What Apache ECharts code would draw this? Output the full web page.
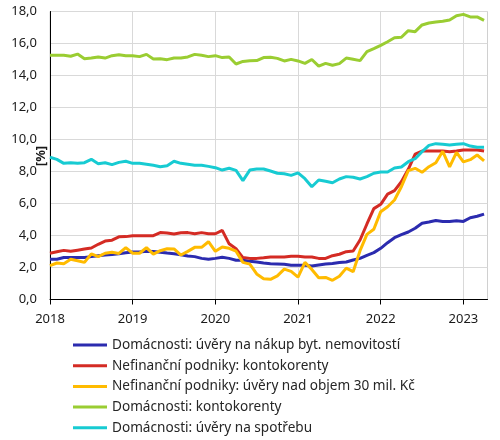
<!DOCTYPE html>
<html>
<head>
<meta charset="utf-8">
<script src="https://cdn.jsdelivr.net/npm/echarts@6/dist/echarts.min.js"></script>
<style>html,body{margin:0;padding:0;background:#fff;}#c{width:500px;height:440px;}</style>
</head>
<body>
<div id="c"></div>
<script>
// Monthly data Jan 2018 – Apr 2023 (64 months)
var yearLabels = ['2018', '2019', '2020', '2021', '2022', '2023'];
var seriesNames = [
  'Domácnosti: úvěry na nákup byt. nemovitostí',
  'Nefinanční podniky: kontokorenty',
  'Nefinanční podniky: úvěry nad objem 30 mil. Kč',
  'Domácnosti: kontokorenty',
  'Domácnosti: úvěry na spotřebu'
];
var hhMortgage = [2.52,2.52,2.62,2.63,2.63,2.63,2.68,2.73,2.78,2.81,2.86,2.92,2.97,2.97,3.02,3.00,2.96,2.90,2.86,2.80,2.72,2.68,2.57,2.51,2.57,2.64,2.57,2.45,2.45,2.39,2.34,2.28,2.24,2.22,2.20,2.14,2.14,2.14,2.09,2.16,2.22,2.25,2.31,2.34,2.47,2.57,2.76,2.93,3.20,3.55,3.86,4.05,4.22,4.45,4.76,4.84,4.94,4.88,4.88,4.92,4.88,5.11,5.20,5.34];
var nfcOverdraft = [2.89,2.98,3.07,3.01,3.08,3.15,3.22,3.45,3.65,3.71,3.92,3.93,3.99,3.99,3.99,3.99,4.18,4.16,4.09,4.17,4.18,4.11,4.18,4.11,4.11,4.32,3.48,3.17,2.62,2.57,2.57,2.61,2.66,2.66,2.66,2.70,2.70,2.66,2.66,2.57,2.57,2.74,2.83,2.99,3.03,3.72,4.72,5.68,5.95,6.59,6.80,7.36,8.14,9.09,9.28,9.28,9.28,9.28,9.24,9.28,9.34,9.34,9.34,9.28];
var nfcLarge = [2.12,2.28,2.24,2.51,2.42,2.32,2.85,2.68,2.89,2.95,2.88,3.24,2.89,2.89,3.24,2.84,3.05,3.17,3.16,2.78,3.01,3.26,3.26,3.61,3.01,3.28,3.20,3.02,2.32,2.21,1.60,1.30,1.26,1.48,1.90,1.76,1.40,2.32,1.88,1.36,1.38,1.20,1.45,1.96,1.74,3.05,4.07,4.39,5.49,5.80,6.22,7.05,8.05,8.20,7.95,8.30,8.55,9.26,8.29,9.20,8.60,8.74,9.03,8.67];
var hhOverdraft = [15.26,15.26,15.26,15.20,15.34,15.05,15.09,15.16,15.09,15.24,15.30,15.24,15.24,15.18,15.32,15.03,15.05,14.99,15.09,15.09,15.16,15.32,15.26,15.18,15.24,15.12,15.16,14.72,14.88,14.92,14.93,15.12,15.14,15.07,14.91,15.01,14.91,14.76,15.00,14.59,14.76,14.64,14.74,15.09,15.01,14.93,15.49,15.68,15.88,16.11,16.36,16.39,16.80,16.74,17.16,17.28,17.34,17.39,17.47,17.74,17.82,17.66,17.66,17.45];
var hhConsumer = [8.89,8.76,8.51,8.55,8.51,8.55,8.76,8.49,8.55,8.43,8.57,8.64,8.51,8.51,8.45,8.39,8.30,8.36,8.64,8.51,8.45,8.39,8.39,8.32,8.24,8.09,8.20,8.07,7.43,8.09,8.16,8.16,8.03,7.89,7.86,7.76,7.91,7.55,7.05,7.47,7.39,7.30,7.53,7.68,7.64,7.53,7.68,7.89,7.97,7.97,8.22,8.28,8.61,8.80,9.24,9.63,9.74,9.70,9.66,9.70,9.74,9.59,9.51,9.51];

var colors = ['#2b2baf', '#d42b24', '#ffbb00', '#9acd32', '#17cbd2'];
var values = [hhMortgage, nfcOverdraft, nfcLarge, hhOverdraft, hhConsumer];

function toPairs(arr) {
  return arr.map(function (v, i) { return [i, v]; });
}

var FONT = 'Noto Sans';
var chart = echarts.init(document.getElementById('c'), null, { renderer: 'canvas' });
var series = values.map(function (arr, k) {
  return {
    name: seriesNames[k],
    type: 'line',
    data: toPairs(arr),
    showSymbol: false,
    symbol: 'none',
    lineStyle: { width: 3, color: colors[k] },
    itemStyle: { color: colors[k] },
    animation: false
  };
});

chart.setOption({
  animation: false,
  color: colors,
  grid: {
    left: 50, right: 12.5, top: 11.5, bottom: 140.5,
    show: true, borderColor: '#d0d0d0', borderWidth: 1, backgroundColor: 'transparent'
  },
  xAxis: {
    type: 'value', min: 0, max: 63.5, interval: 12,
    axisLine: { show: true, lineStyle: { color: '#000', width: 1 } },
    axisTick: { show: true, length: 5, lineStyle: { color: '#000' }, customValues: [0, 12, 24, 36, 48, 60] },
    axisLabel: {
      customValues: [0, 12, 24, 36, 48, 60],
      margin: 13, color: '#1a1a1a', fontFamily: FONT, fontSize: 13,
      formatter: function (v) { var k = Math.round(v / 12); return (Math.abs(v - k * 12) < 1e-6 && yearLabels[k]) ? yearLabels[k] : ''; }
    },
    splitLine: { show: true, lineStyle: { color: '#d9d9d9', width: 1 } }
  },
  yAxis: {
    type: 'value', min: 0, max: 18, interval: 2,
    axisLine: { show: true, lineStyle: { color: '#000', width: 1 } },
    axisTick: { show: false },
    axisLabel: {
      margin: 13, color: '#1a1a1a', fontFamily: FONT, fontSize: 13,
      formatter: function (v) { return v.toFixed(1).replace('.', ','); }
    },
    splitLine: { show: true, lineStyle: { color: '#d9d9d9', width: 1 } }
  },
  legend: {
    orient: 'vertical', left: 73, top: 337,
    icon: 'rect', itemWidth: 34, itemHeight: 3, itemGap: 4.7, itemTextGap: 2,
    padding: 0,
    textStyle: { fontFamily: FONT, fontSize: 13.6, color: '#262626', lineHeight: 16 },
    data: seriesNames
  },
  graphic: [{
    type: 'text', x: 41.5, y: 156, rotation: Math.PI / 2,
    style: { text: '[%]', fontFamily: FONT, fontSize: 13, fontWeight: 'bold', fill: '#1a1a1a', align: 'center', verticalAlign: 'middle' }
  }],
  series: series
});
</script>
</body>
</html>
